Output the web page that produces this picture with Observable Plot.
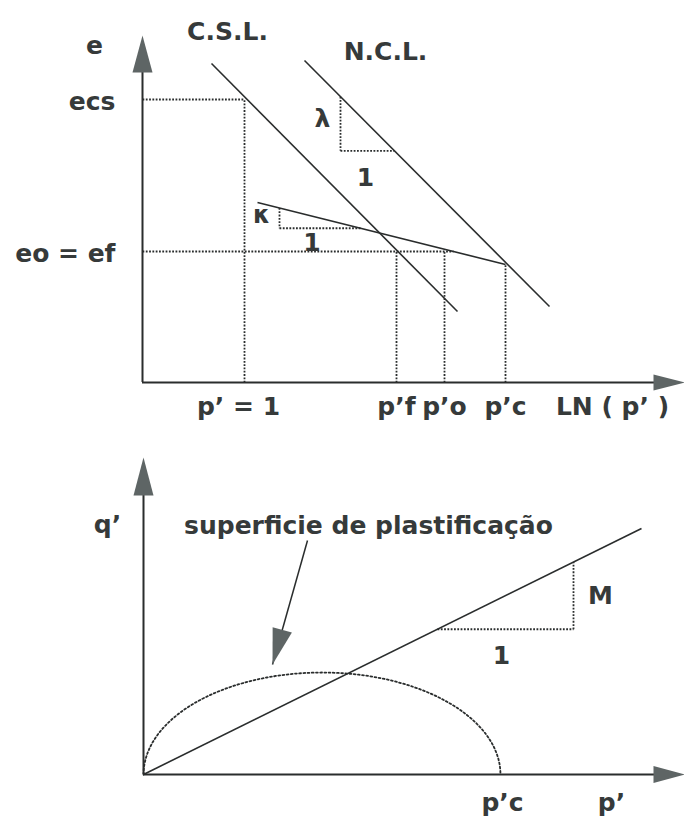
<!DOCTYPE html>
<html>
<head>
<meta charset="utf-8">
<script src="https://cdn.jsdelivr.net/npm/d3@7"></script>
<script src="https://cdn.jsdelivr.net/npm/@observablehq/plot@0.6"></script>
<style>
  html, body { margin: 0; padding: 0; background: #fff; }
  #chart { width: 684px; }
  #chart svg { display: block; }
</style>
</head>
<body>
<div id="chart"></div>
<script>
// ---------- e – LN(p') plane ----------
const eTickLabels = ["ecs", "eo = ef"];
const eTickValues = [5.66, 2.62];
const lnpTickLabels = ["p’ = 1", "p’f", "p’o", "p’c"];
const lnpTickValues = [2.04, 5.08, 6.04, 7.26];
const lnpAxisName = "LN ( p’ )";
const eAxisName = "e";
const cslLnp = [1.38, 6.30];
const cslE = [6.38, 1.42];
const nclLnp = [3.24, 8.14];
const nclE = [6.44, 1.52];
const kappaLnp = [2.30, 7.26];
const kappaE = [3.60, 2.36];
const lambdaStep = [3.96, 1.08];   // start of the slope triangle, horizontal run
const kappaStep = [2.74, 1.62];
const lineNames = ["C.S.L.", "N.C.L."];
const slopeNames = ["λ", "κ"];

// ---------- q' – p' plane ----------
const qAxisName = "q’";
const pAxisName = "p’";
const M = 0.494;
const cslPEnd = 9.96;
const pcLabel = "p’c";
const pcValue = 7.14;
const yieldPeakQ = 2.04;
const mStep = [5.88, 2.72];
const yieldLabel = "superficie de plastificação";
const yieldArrowTail = [3.28, 4.68];
const yieldArrowTip = [2.58, 2.20];

// ---------- drawing ----------
const K = 50;                 // pixels per unit on both axes (equal aspect)
const W = 684;
const ink = "#2a2d2d";
const textInk = "#363a3a";
const headFill = "#5e6565";
const font = {fontSize: 25, fontWeight: "bold", fill: textInk};
const dotted = {stroke: ink, strokeWidth: 1.8, strokeDasharray: "1.8,1.5"};
const solid = {stroke: ink, strokeWidth: 1.6};

// filled arrowhead, tip at the anchor, pointing up before rotation
const spike = (w, l) => ({
  draw(ctx) { ctx.moveTo(0, 0); ctx.lineTo(w / 2, l); ctx.lineTo(-w / 2, l); ctx.closePath(); }
});
const at = (xs, ys, x) => ys[0] + (x - xs[0]) * (ys[1] - ys[0]) / (xs[1] - xs[0]);

// ---- top panel
{
  const H = 430, left = 142, bottom = 48;
  const xMax = (W - left) / K, yMax = (H - bottom) / K;
  const eTop = yMax - 35 / K;
  const [ecs, eo] = eTickValues;
  const [p1, pf, po, pc] = lnpTickValues;
  const pcE = at(kappaLnp, kappaE, pc);
  const eoEnd = kappaLnp[0] + (kappaE[0] - eo) / ((kappaE[0] - kappaE[1]) / (kappaLnp[1] - kappaLnp[0]));

  const guides = [
    {x1: 0, y1: ecs, x2: p1, y2: ecs},
    {x1: p1, y1: 0, x2: p1, y2: ecs},
    {x1: 0, y1: eo, x2: eoEnd, y2: eo},
    {x1: pf, y1: 0, x2: pf, y2: eo},
    {x1: po, y1: 0, x2: po, y2: eo},
    {x1: pc, y1: 0, x2: pc, y2: pcE}
  ];
  const lines = [
    {x1: cslLnp[0], y1: cslE[0], x2: cslLnp[1], y2: cslE[1]},
    {x1: nclLnp[0], y1: nclE[0], x2: nclLnp[1], y2: nclE[1]},
    {x1: kappaLnp[0], y1: kappaE[0], x2: kappaLnp[1], y2: kappaE[1]}
  ];
  const tri = (xs, ys, [x0, run]) => {
    const top = at(xs, ys, x0), low = at(xs, ys, x0 + run);
    return [{x1: x0, y1: top, x2: x0, y2: low}, {x1: x0, y1: low, x2: x0 + run, y2: low}];
  };
  const lamTri = tri(nclLnp, nclE, lambdaStep);
  const kapTri = tri(kappaLnp, kappaE, kappaStep);

  const top = Plot.plot({
    width: W, height: H,
    marginLeft: left, marginRight: 0, marginTop: 0, marginBottom: bottom,
    x: {domain: [0, xMax], axis: null},
    y: {domain: [0, yMax], axis: null},
    style: {fontFamily: "DejaVu Sans", background: "#fff", overflow: "visible"},
    marks: [
      Plot.link(guides, {x1: "x1", y1: "y1", x2: "x2", y2: "y2", ...dotted}),
      Plot.link([...lamTri, ...kapTri], {x1: "x1", y1: "y1", x2: "x2", y2: "y2", ...dotted}),
      Plot.link(lines, {x1: "x1", y1: "y1", x2: "x2", y2: "y2", ...solid}),
      Plot.ruleX([0], {y1: 0, y2: eTop - 0.3, stroke: ink, strokeWidth: 2}),
      Plot.ruleY([0], {x1: 0, x2: xMax - 0.3, stroke: ink, strokeWidth: 2}),
      Plot.dot([[0, eTop]], {x: "0", y: "1", symbol: spike(20, 37), r: 10, fill: headFill, stroke: "none"}),
      Plot.dot([[xMax, 0]], {x: "0", y: "1", symbol: spike(16, 31), r: 10, rotate: 90, fill: headFill, stroke: "none"}),
      // axis labels
      Plot.text([eAxisName], {x: 0, y: eTop, text: d => d, dx: -48, dy: 10, ...font}),
      Plot.text(eTickLabels, {x: 0, y: (d, i) => eTickValues[i], text: d => d, textAnchor: "end", dx: -27, dy: 2, ...font}),
      Plot.text(lnpTickLabels.slice(0, 1), {x: lnpTickValues[0], y: 0, text: d => d, dx: -6, dy: 24, ...font}),
      Plot.text(lnpTickLabels.slice(1), {x: (d, i) => lnpTickValues[i + 1], y: 0, text: d => d, dy: 24, ...font}),
      Plot.text([lnpAxisName], {x: xMax - 1.44, y: 0, text: d => d, dy: 24, ...font}),
      // line names
      Plot.text([lineNames[0]], {x: cslLnp[0], y: cslE[0], text: d => d, dx: 16, dy: -32, ...font}),
      Plot.text([lineNames[1]], {x: nclLnp[0], y: nclE[0], text: d => d, dx: 81, dy: -9, ...font}),
      // slope triangle labels
      Plot.text([slopeNames[0]], {x: lamTri[0].x1, y: (lamTri[0].y1 + lamTri[0].y2) / 2, text: d => d, dx: -18, dy: -5, ...font}),
      Plot.text(["1"], {x: (lamTri[1].x1 + lamTri[1].x2) / 2, y: lamTri[1].y1, text: d => d, dx: -2, dy: 27, ...font}),
      Plot.text([slopeNames[1]], {x: kapTri[0].x1, y: (kapTri[0].y1 + kapTri[0].y2) / 2, text: d => d, dx: -18, dy: -3, ...font, fontSize: 24}),
      Plot.text(["1"], {x: (kapTri[1].x1 + kapTri[1].x2) / 2, y: kapTri[1].y1, text: d => d, dx: -8, dy: 15, ...font})
    ]
  });
  document.getElementById("chart").append(top);
}

// ---- bottom panel
{
  const H = 387, left = 143, bottom = 43;
  const xMax = (W - left) / K, yMax = (H - bottom) / K;
  const qTop = yMax - 27 / K;

  // elliptical yield surface through the origin and p'c
  const c = pcValue / 2;
  const yieldCurve = d3.range(0, 181, 3).map(t => {
    const a = (180 - t) * Math.PI / 180;
    return [c + c * Math.cos(a), yieldPeakQ * Math.sin(a)];
  });
  const [m0, mRun] = mStep;
  const mTri = [
    {x1: m0, y1: M * m0, x2: m0 + mRun, y2: M * m0},
    {x1: m0 + mRun, y1: M * m0, x2: m0 + mRun, y2: M * (m0 + mRun)}
  ];
  const rot = Math.atan2(yieldArrowTip[0] - yieldArrowTail[0], yieldArrowTip[1] - yieldArrowTail[1]) * 180 / Math.PI;

  const bot = Plot.plot({
    width: W, height: H,
    marginLeft: left, marginRight: 0, marginTop: 0, marginBottom: bottom,
    x: {domain: [0, xMax], axis: null},
    y: {domain: [0, yMax], axis: null},
    style: {fontFamily: "DejaVu Sans", background: "#fff", overflow: "visible"},
    marks: [
      Plot.line(yieldCurve, {x: "0", y: "1", stroke: ink, strokeWidth: 1.8, strokeDasharray: "1.8,2.4"}),
      Plot.link(mTri, {x1: "x1", y1: "y1", x2: "x2", y2: "y2", ...dotted}),
      Plot.link([{p: cslPEnd}], {x1: 0, y1: 0, x2: "p", y2: d => M * d.p, ...solid}),
      Plot.ruleX([0], {y1: 0, y2: qTop - 0.3, stroke: ink, strokeWidth: 2}),
      Plot.ruleY([0], {x1: 0, x2: xMax - 0.3, stroke: ink, strokeWidth: 2}),
      Plot.dot([[0, qTop]], {x: "0", y: "1", symbol: spike(20, 38), r: 10, fill: headFill, stroke: "none"}),
      Plot.dot([[xMax, 0]], {x: "0", y: "1", symbol: spike(17, 31), r: 10, rotate: 90, fill: headFill, stroke: "none"}),
      // pointer to the yield surface
      Plot.link([{}], {x1: yieldArrowTail[0], y1: yieldArrowTail[1], x2: yieldArrowTip[0], y2: yieldArrowTip[1], stroke: ink, strokeWidth: 1.5}),
      Plot.dot([yieldArrowTip], {x: "0", y: "1", symbol: spike(20, 36), r: 10, rotate: rot, fill: headFill, stroke: "none"}),
      Plot.text([yieldLabel], {x: yieldArrowTail[0], y: yieldArrowTail[1], text: d => d, dx: 61, dy: -15, ...font}),
      // axis labels
      Plot.text([qAxisName], {x: 0, y: 5.0, text: d => d, dx: -36, ...font}),
      Plot.text([pcLabel], {x: pcValue, y: 0, text: d => d, dx: 2, dy: 28, ...font}),
      Plot.text([pAxisName], {x: xMax - 1.46, y: 0, text: d => d, dy: 28, ...font}),
      // slope triangle labels
      Plot.text(["M"], {x: mTri[1].x1, y: (mTri[1].y1 + mTri[1].y2) / 2, text: d => d, dx: 27, dy: 0, ...font}),
      Plot.text(["1"], {x: (mTri[0].x1 + mTri[0].x2) / 2, y: mTri[0].y1, text: d => d, dx: -4, dy: 27, ...font})
    ]
  });
  document.getElementById("chart").append(bot);
}
</script>
</body>
</html>
